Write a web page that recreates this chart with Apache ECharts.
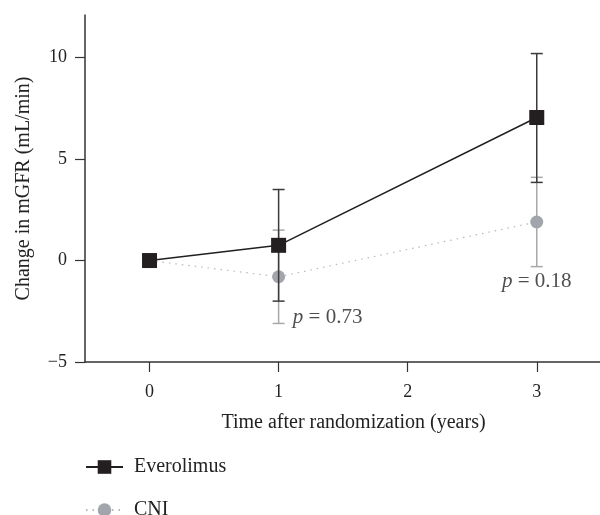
<!DOCTYPE html>
<html>
<head>
<meta charset="utf-8">
<script src="https://cdn.jsdelivr.net/npm/echarts@6/dist/echarts.min.js"></script>
<style>
  html, body { margin: 0; padding: 0; background: #fff; }
  #chart { width: 600px; height: 515px; }
</style>
</head>
<body>
<div id="chart"></div>
<script>
// values
const years = [0, 1, 3];
const everolimusMean = [0, 0.75, 7.05];
const everolimusLow = [0, -2.0, 3.85];
const everolimusHigh = [0, 3.5, 10.2];
const cniMean = [0, -0.8, 1.9];
const cniLow = [0, -3.1, -0.3];
const cniHigh = [0, 1.5, 4.1];
const xTicks = [0, 1, 2, 3];
const yTicks = [-5, 0, 5, 10];
const pYears = [1.11, 3];
const pAt = [-2.83, -1.05];
const pValues = ['0.73', '0.18'];

const serif = '"Liberation Serif", "DejaVu Serif", serif';
const dark = '#231f20';
const grey = '#a2a5ab';

function errorBars(low, high, color, z) {
    return {
        type: 'custom',
        z: z,
        silent: true,
        data: years.map((x, i) => [x, low[i], high[i]]),
        renderItem: function (params, api) {
            const lo = api.value(1), hi = api.value(2);
            if (lo === hi) return null;
            const top = api.coord([api.value(0), hi]);
            const bot = api.coord([api.value(0), lo]);
            const w = 6;
            const style = {stroke: color, lineWidth: 1.5};
            return {
                type: 'group',
                children: [
                    {type: 'line', shape: {x1: top[0], y1: top[1], x2: bot[0], y2: bot[1]}, style: style},
                    {type: 'line', shape: {x1: top[0] - w, y1: top[1], x2: top[0] + w, y2: top[1]}, style: style},
                    {type: 'line', shape: {x1: bot[0] - w, y1: bot[1], x2: bot[0] + w, y2: bot[1]}, style: style}
                ]
            };
        }
    };
}

function legendAt(name, top) {
    return {
        left: 85,
        top: top,
        padding: 0,
        itemWidth: 37,
        itemHeight: 17,
        textStyle: {color: '#222', fontSize: 20, fontFamily: serif, padding: [0, 0, 0, 6]},
        data: [name]
    };
}

const chart = echarts.init(document.getElementById('chart'));
chart.setOption({
    animation: false,
    textStyle: {fontFamily: serif},
    grid: {left: 85, right: 0, top: 15, bottom: 153},
    xAxis: {
        type: 'value',
        min: -0.5,
        max: 3.49,
        splitLine: {show: false},
        axisLine: {onZero: false, lineStyle: {color: '#333', width: 1.5}},
        axisTick: {customValues: xTicks, length: 10, lineStyle: {color: '#333', width: 1.2}},
        axisLabel: {customValues: xTicks, margin: 21, color: '#222', fontSize: 18, fontFamily: serif},
        name: 'Time after randomization (years)',
        nameLocation: 'middle',
        nameGap: 51,
        nameTextStyle: {color: '#222', fontSize: 20, fontFamily: serif, padding: [0, 0, 0, 22]}
    },
    yAxis: {
        type: 'value',
        min: -5,
        max: 12.1,
        splitLine: {show: false},
        axisLine: {onZero: false, lineStyle: {color: '#333', width: 1.5}},
        axisTick: {customValues: yTicks, length: 10, lineStyle: {color: '#333', width: 1.2}},
        axisLabel: {
            customValues: yTicks, margin: 18, color: '#222', fontSize: 18, fontFamily: serif,
            formatter: v => v < 0 ? '\u2212' + Math.abs(v) : String(v)
        },
        name: 'Change in mGFR (mL/min)',
        nameLocation: 'middle',
        nameGap: 51,
        nameTextStyle: {color: '#222', fontSize: 20, fontFamily: serif}
    },
    legend: [legendAt('Everolimus', 457), legendAt('CNI', 500)],
    series: [
        errorBars(cniLow, cniHigh, '#a8a8a8', 1),
        {
            name: 'CNI',
            type: 'line',
            z: 2,
            data: years.map((x, i) => [x, cniMean[i]]),
            symbol: 'circle',
            symbolSize: 13,
            itemStyle: {color: grey},
            lineStyle: {color: '#b8b8b8', width: 1.2, type: [1.5, 5]}
        },
        errorBars(everolimusLow, everolimusHigh, '#3a3a3a', 3),
        {
            name: 'Everolimus',
            type: 'line',
            z: 4,
            data: years.map((x, i) => [x, everolimusMean[i]]),
            symbol: 'rect',
            symbolSize: 15,
            itemStyle: {color: dark},
            lineStyle: {color: dark, width: 1.5}
        },
        {
            type: 'scatter',
            z: 5,
            silent: true,
            symbolSize: 0,
            data: pYears.map((x, i) => ({
                value: [x, pAt[i]],
                label: {align: i === 0 ? 'left' : 'center'}
            })),
            label: {
                show: true,
                position: 'inside',
                verticalAlign: 'middle',
                color: '#222',
                fontSize: 21,
                fontFamily: serif,
                formatter: p => '{i|p} = ' + pValues[p.dataIndex],
                rich: {i: {fontStyle: 'italic', fontSize: 21, fontFamily: serif, color: '#222'}}
            }
        }
    ]
});
</script>
</body>
</html>
